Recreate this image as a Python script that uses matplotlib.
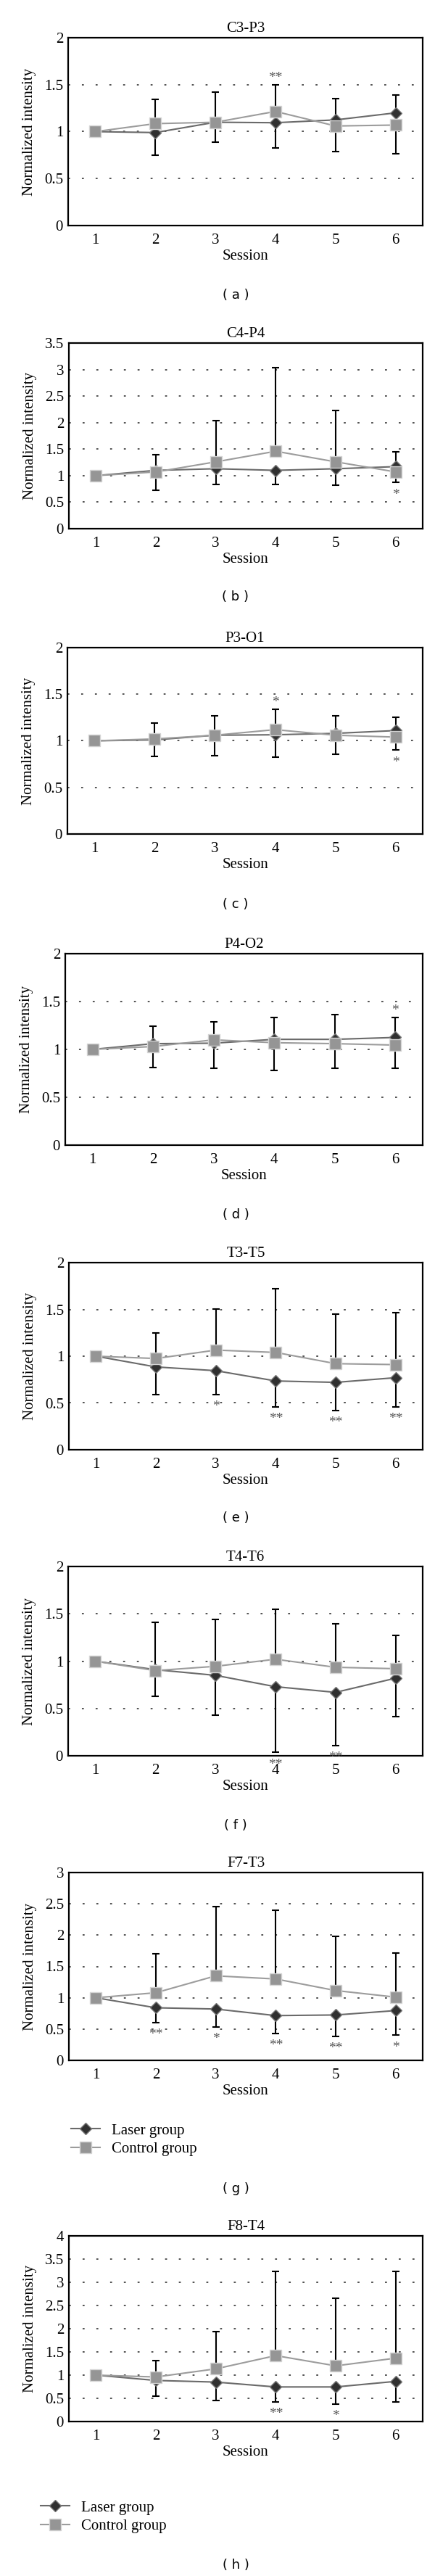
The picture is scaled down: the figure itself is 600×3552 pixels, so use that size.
import numpy as np
import matplotlib.pyplot as plt

plt.rcParams['font.family'] = ['Liberation Serif', 'DejaVu Serif']

sessions = [1, 2, 3, 4, 5, 6]
titles = ["C3-P3", "C4-P4", "P3-O1", "P4-O2", "T3-T5", "T4-T6", "F7-T3", "F8-T4"]
tags = ["a", "b", "c", "d", "e", "f", "g", "h"]
ymax = [2, 3.5, 2, 2, 2, 2, 3, 4]

# group means (sessions 1-6)
laser = [
    [1.0, 0.99, 1.10, 1.095, 1.125, 1.20],
    [1.0, 1.10, 1.13, 1.10, 1.13, 1.17],
    [1.0, 1.01, 1.06, 1.065, 1.08, 1.11],
    [1.0, 1.06, 1.065, 1.105, 1.105, 1.125],
    [1.0, 0.885, 0.845, 0.735, 0.72, 0.77],
    [1.0, 0.91, 0.85, 0.73, 0.67, 0.82],
    [1.0, 0.84, 0.82, 0.715, 0.725, 0.795],
    [1.0, 0.885, 0.85, 0.745, 0.745, 0.865],
]
control = [
    [1.0, 1.085, 1.10, 1.215, 1.06, 1.07],
    [1.0, 1.07, 1.26, 1.46, 1.26, 1.07],
    [1.0, 1.02, 1.06, 1.12, 1.06, 1.04],
    [1.0, 1.03, 1.10, 1.07, 1.06, 1.045],
    [1.0, 0.975, 1.065, 1.04, 0.92, 0.91],
    [1.0, 0.90, 0.945, 1.02, 0.935, 0.92],
    [1.0, 1.08, 1.35, 1.30, 1.115, 1.01],
    [1.0, 0.96, 1.135, 1.42, 1.20, 1.365],
]
# end of error bars, sessions 2-6 (control upward, laser downward)
control_hi = [
    [1.345, 1.42, 1.50, 1.355, 1.39],
    [1.40, 2.04, 3.04, 2.23, 1.455],
    [1.19, 1.27, 1.34, 1.27, 1.25],
    [1.24, 1.29, 1.335, 1.36, 1.335],
    [1.25, 1.505, 1.72, 1.45, 1.465],
    [1.41, 1.44, 1.55, 1.395, 1.27],
    [1.70, 2.45, 2.40, 1.98, 1.72],
    [1.315, 1.94, 3.23, 2.655, 3.23],
]
laser_lo = [
    [0.75, 0.89, 0.83, 0.79, 0.765],
    [0.73, 0.83, 0.83, 0.82, 0.87],
    [0.83, 0.84, 0.825, 0.855, 0.90],
    [0.81, 0.80, 0.78, 0.80, 0.80],
    [0.59, 0.59, 0.455, 0.42, 0.455],
    [0.63, 0.43, 0.035, 0.105, 0.41],
    [0.60, 0.53, 0.425, 0.385, 0.40],
    [0.55, 0.457, 0.42, 0.37, 0.415],
]
# significance marks: (session, mark, side)
stars = [
    [(4, "**", "up")],
    [(6, "*", "down")],
    [(4, "*", "up"), (6, "*", "down")],
    [(6, "*", "up")],
    [(3, "*", "down"), (4, "**", "down"), (5, "**", "down"), (6, "**", "down")],
    [(4, "**", "down"), (5, "**", "down")],
    [(2, "**", "down"), (3, "*", "down"), (4, "**", "down"), (5, "**", "down"), (6, "*", "down")],
    [(4, "**", "down"), (5, "*", "down")],
]

# layout in pixels
W, H = 600, 3552
ax_left = [94, 95, 93, 90, 95, 94, 95, 95]
ax_right = 583
ax_top = [52, 473, 893, 1315, 1741, 2160, 2582, 3083]
ax_bot = [311, 729, 1150, 1579, 1999, 2421, 2841, 3339]
tag_y = [407, 823, 1247, 1675, 2093, 2517, 3018, 3537]

fig = plt.figure(figsize=(W / 100, H / 100), dpi=100)
x = np.array(sessions)

axes = []
for i in range(8):
    l, t, b = ax_left[i], ax_top[i], ax_bot[i]
    ax = fig.add_axes([l / W, 1 - b / H, (ax_right - l) / W, (b - t) / H])
    axes.append(ax)
    lz = np.array(laser[i])
    cz = np.array(control[i])
    hi = np.array(control_hi[i])
    lo = np.array(laser_lo[i])
    z = np.zeros(5)
    ax.errorbar(x[1:], cz[1:], yerr=[z, hi - cz[1:]], fmt='none', ecolor='black',
                elinewidth=1.5, capsize=3.5, capthick=1.5, zorder=2)
    ax.errorbar(x[1:], lz[1:], yerr=[lz[1:] - lo, z], fmt='none', ecolor='black',
                elinewidth=1.5, capsize=3.5, capthick=1.5, zorder=2)
    ax.plot(x, lz, color='#6a6a6a', lw=1.5, marker='D', ms=8.5, mfc='#303030',
            mec='#777777', mew=1, zorder=3, label='Laser group')
    ax.plot(x, cz, color='#9c9c9c', lw=1.5, marker='s', ms=11, mfc='#959595',
            mec='#d4d4d4', mew=1, zorder=4, label='Control group')

    for s, txt, side in stars[i]:
        if side == "up":
            yy, off = hi[s - 2], 7
        else:
            yy, off = lo[s - 2], -12
        ax.annotate(txt, (s, yy), xytext=(0, off), textcoords='offset points',
                    ha='center', va='center', fontsize=14, color='#555555',
                    annotation_clip=False)

    ax.set_xlim(0.55, 6.45)
    ax.set_ylim(0, ymax[i])
    yt = np.arange(0, ymax[i] + 0.01, 0.5)
    ax.set_yticks(yt)
    ax.set_yticklabels(['%g' % v for v in yt])
    ax.set_xticks(sessions)
    ax.tick_params(axis='both', length=0, labelsize=15)
    ax.tick_params(axis='y', pad=5)
    ax.tick_params(axis='x', pad=8)
    ax.grid(axis='y', linestyle=(0, (1.5, 9)), color='#444444', lw=1.3)
    ax.set_axisbelow(True)
    for sp in ax.spines.values():
        sp.set_linewidth(1.6)
        sp.set_color('black')
    ax.set_title(titles[i], fontsize=15, pad=6)
    ax.set_xlabel("Session", fontsize=15, labelpad=2)
    ax.set_ylabel("Normalized intensity", fontsize=15, labelpad=8)

    fig.text(325 / W, 1 - tag_y[i] / H, "( %s )" % tags[i], ha='center', va='center',
             fontsize=13, family='DejaVu Sans')

handles, labels = axes[6].get_legend_handles_labels()
for lx, ly in [(98, 2928), (56, 3448)]:
    fig.legend(handles, labels, loc='upper left', bbox_to_anchor=(lx / W, 1 - ly / H),
               frameon=False, fontsize=15, borderpad=0, borderaxespad=0,
               handlelength=1.9, handletextpad=0.8, labelspacing=0.3, numpoints=1)

fig.savefig("out.png", dpi=100)
